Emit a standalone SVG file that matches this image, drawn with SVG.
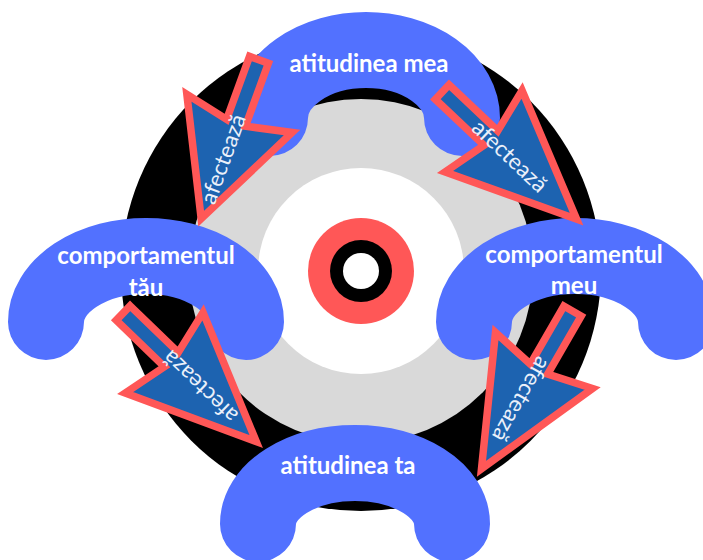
<svg xmlns="http://www.w3.org/2000/svg" width="703" height="560" viewBox="0 0 703 560">
<style>
.blob{fill:none;stroke:#5271FF;stroke-width:76;stroke-linecap:round}
.lbl{font-family:Lato,"Open Sans","Liberation Sans",sans-serif;font-weight:700;font-size:24px;fill:#ffffff;text-anchor:middle}
.arr{fill:#1D63B0;stroke:#FF5757;stroke-width:7.5;stroke-linejoin:miter}
.atxt{font-family:Lato,"Open Sans","Liberation Sans",sans-serif;font-size:22.5px;fill:#EAF0FA;text-anchor:middle}
</style>
<rect width="703" height="560" fill="#ffffff"/>
<g id="background">
<circle cx="361" cy="271" r="240" fill="#000000"/>
<circle cx="361" cy="271" r="172" fill="#D9D9D9"/>
<circle cx="361" cy="271" r="103" fill="#ffffff"/>
<circle cx="361" cy="271" r="53" fill="#FF5757"/>
<circle cx="361" cy="271" r="31" fill="#000000"/>
<circle cx="361" cy="271" r="18" fill="#ffffff"/>
</g>
<g id="node-atitudinea-mea">
<path class="blob" d="M 270,118 A 96,68 0 0 1 462,118"/>
<text class="lbl" x="369" y="72">atitudinea mea</text>
</g>
<g id="node-comportamentul-tau">
<path class="blob" d="M 46,322 A 100,66 0 0 1 246,322"/>
<text class="lbl" x="146" y="264">comportamentul</text>
<text class="lbl" x="146" y="296">tău</text>
</g>
<g id="node-comportamentul-meu">
<path class="blob" d="M 474,322 A 101,66 0 0 1 676,322"/>
<text class="lbl" x="574" y="263">comportamentul</text>
<text class="lbl" x="574" y="294">meu</text>
</g>
<g id="node-atitudinea-ta">
<path class="blob" d="M 258,524 A 97,61 0 0 1 452,524"/>
<text class="lbl" x="348" y="474">atitudinea ta</text>
</g>
<g id="connectors">
<g id="arrow-1">
<polygon class="arr" points="3,-10 70,-10 60,-56 172,0 60,56 70,10 3,10" transform="translate(260 57) rotate(110)"/>
<text class="atxt" x="223" y="159" dy="0.35em" transform="rotate(-70 223 159)">afectează</text>
</g>
<g id="arrow-2">
<polygon class="arr" points="3,-10 70,-10 60,-56 188,0 60,56 70,10 3,10" transform="translate(440 90) rotate(43.4)"/>
<text class="atxt" x="510" y="156" dy="0.35em" transform="rotate(43.4 510 156)">afectează</text>
</g>
<g id="arrow-3">
<polygon class="arr" points="3,-10 70,-10 60,-56 188,0 60,56 70,10 3,10" transform="translate(121 311) rotate(44)"/>
<text class="atxt" x="200" y="387" dy="0.35em" transform="rotate(224 200 387)">afectează</text>
</g>
<g id="arrow-4">
<polygon class="arr" points="3,-10 70,-10 60,-56 185,0 60,56 70,10 3,10" transform="translate(574 308.5) rotate(120)"/>
<text class="atxt" x="521.5" y="399.5" dy="0.35em" transform="rotate(120 521.5 399.5)">afectează</text>
</g>
</g>
</svg>
